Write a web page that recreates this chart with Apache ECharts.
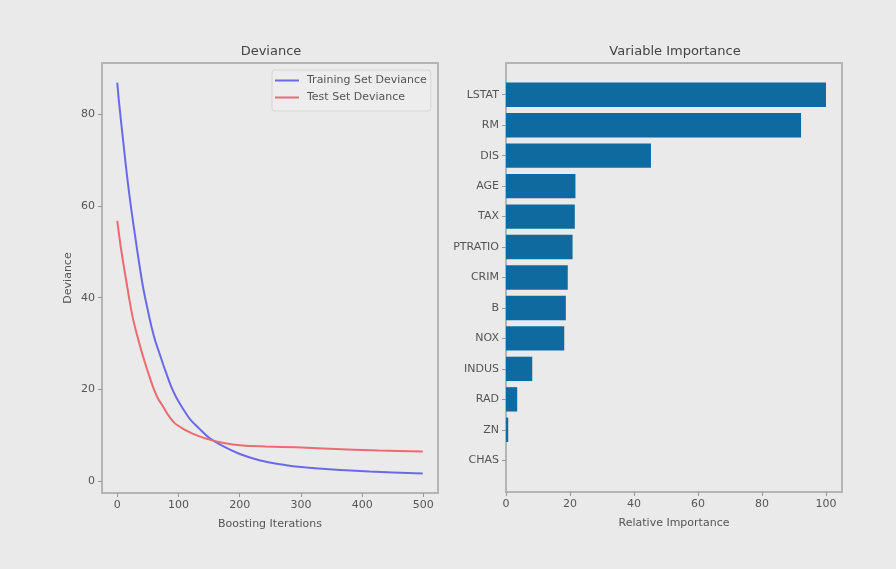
<!DOCTYPE html>
<html>
<head>
<meta charset="utf-8">
<script src="https://cdn.jsdelivr.net/npm/echarts@6/dist/echarts.min.js"></script>
<style>
  html, body { margin: 0; padding: 0; background: #eaeaea; }
  #chart { width: 896px; height: 569px; }
</style>
</head>
<body>
<div id="chart"></div>
<script>
// Gradient boosting run: deviance per boosting iteration
var trainIter = [0, 3, 10, 16, 23, 29, 36, 42, 49, 56, 62, 69, 75, 80, 88, 96, 107, 118, 134, 150, 172, 199, 232, 276, 300, 346, 412, 499];
var trainDeviance = [87.0, 82.5, 73.8, 66.5, 59.2, 53.6, 47.3, 42.4, 37.8, 33.6, 30.6, 27.8, 25.4, 23.5, 20.6, 18.3, 15.8, 13.6, 11.4, 9.4, 7.6, 5.9, 4.5, 3.4, 3.0, 2.5, 2.0, 1.6];
var testIter = [0, 6, 13, 19, 25, 32, 39, 45, 52, 59, 66, 74, 82, 93, 107, 123, 145, 172, 205, 243, 292, 346, 428, 499];
var testDeviance = [56.8, 50.8, 45.0, 40.2, 35.8, 32.0, 28.6, 25.9, 23.0, 20.3, 18.1, 16.4, 14.6, 12.7, 11.4, 10.3, 9.2, 8.3, 7.7, 7.5, 7.3, 7.0, 6.6, 6.4];
var iterTicks = [0, 100, 200, 300, 400, 500];
var devianceTicks = [0, 20, 40, 60, 80];

// Relative feature importance, most important first
var features = ['LSTAT', 'RM', 'DIS', 'AGE', 'TAX', 'PTRATIO', 'CRIM', 'B', 'NOX', 'INDUS', 'RAD', 'ZN', 'CHAS'];
var importance = [100, 92.2, 45.3, 21.7, 21.5, 20.8, 19.3, 18.7, 18.2, 8.2, 3.5, 0.7, 0];
var importanceTicks = [0, 20, 40, 60, 80, 100];

function pairs(xs, ys) {
  return xs.map(function (x, i) { return [x, ys[i]]; });
}

var FONT = 'DejaVu Sans';
var TICK_COLOR = '#555555';
var FRAME = '#b4b4b4';

var chart = echarts.init(document.getElementById('chart'), null, { renderer: 'canvas' });

var tickLabel = { fontFamily: FONT, fontSize: 11, color: TICK_COLOR, margin: 7 };
var tick = { show: true, inside: false, length: 4, lineStyle: { color: '#9a9a9a', width: 1 } };
var nameStyle = { fontFamily: FONT, fontSize: 11, color: TICK_COLOR };
var hiddenLine = { show: false, onZero: false };

chart.setOption({
  backgroundColor: '#eaeaea',
  animation: false,
  textStyle: { fontFamily: FONT },
  graphic: [
    { type: 'text', x: 271, y: 52, style: { text: 'Deviance', fontFamily: FONT, fontSize: 13, fill: '#444', textAlign: 'center', textVerticalAlign: 'middle' } },
    { type: 'text', x: 675, y: 52, style: { text: 'Variable Importance', fontFamily: FONT, fontSize: 13, fill: '#444', textAlign: 'center', textVerticalAlign: 'middle' } }
  ],
  legend: {
    data: ['Training Set Deviance', 'Test Set Deviance'],
    orient: 'vertical',
    left: 272, top: 70,
    icon: 'rect',
    itemWidth: 24, itemHeight: 2,
    itemGap: 6,
    padding: [5, 4, 8, 3],
    borderColor: '#d6d6d6', borderWidth: 1, borderRadius: 3,
    backgroundColor: '#ededed',
    textStyle: { fontFamily: FONT, fontSize: 11, color: TICK_COLOR, padding: [0, 0, 0, 3] }
  },
  grid: [
    { left: 102, top: 63, width: 336, height: 430, show: true, borderColor: FRAME, borderWidth: 2, backgroundColor: '#eaeaea' },
    { left: 506, top: 63, width: 336, height: 429, show: true, borderColor: FRAME, borderWidth: 2, backgroundColor: '#eaeaea' },
    { left: 506, top: 79.5, width: 336, height: 396 }
  ],
  xAxis: [
    {
      gridIndex: 0, type: 'value', min: -24.95, max: 523.95, position: 'bottom',
      axisLine: hiddenLine, splitLine: { show: false },
      axisTick: Object.assign({ customValues: iterTicks }, tick),
      axisLabel: Object.assign({ customValues: iterTicks }, tickLabel),
      name: 'Boosting Iterations', nameLocation: 'middle', nameGap: 26, nameTextStyle: nameStyle
    },
    {
      gridIndex: 1, type: 'value', min: 0, max: 105, position: 'bottom',
      axisLine: hiddenLine, splitLine: { show: false },
      axisTick: Object.assign({ customValues: importanceTicks }, tick),
      axisLabel: Object.assign({ customValues: importanceTicks }, tickLabel),
      name: 'Relative Importance', nameLocation: 'middle', nameGap: 26, nameTextStyle: nameStyle
    },
    {
      gridIndex: 2, type: 'value', min: 0, max: 105, show: false
    }
  ],
  yAxis: [
    {
      gridIndex: 0, type: 'value', min: -2.67, max: 91.27, position: 'left',
      axisLine: hiddenLine, splitLine: { show: false },
      axisTick: Object.assign({ customValues: devianceTicks }, tick),
      axisLabel: Object.assign({ customValues: devianceTicks }, tickLabel),
      name: 'Deviance', nameLocation: 'middle', nameGap: 28, nameTextStyle: nameStyle
    },
    {
      gridIndex: 1, type: 'value', min: 0, max: 1, show: false
    },
    {
      gridIndex: 2, type: 'category', data: features, inverse: true, position: 'left',
      axisLine: hiddenLine, splitLine: { show: false },
      axisTick: Object.assign({ alignWithLabel: true }, tick),
      axisLabel: tickLabel
    }
  ],
  series: [
    {
      name: 'Training Set Deviance', type: 'line', xAxisIndex: 0, yAxisIndex: 0,
      data: pairs(trainIter, trainDeviance),
      showSymbol: false, symbol: 'none', smooth: 0.3,
      lineStyle: { color: '#6a6ae8', width: 2 }, itemStyle: { color: '#6a6ae8' }
    },
    {
      name: 'Test Set Deviance', type: 'line', xAxisIndex: 0, yAxisIndex: 0,
      data: pairs(testIter, testDeviance),
      showSymbol: false, symbol: 'none', smooth: 0.3,
      lineStyle: { color: '#ec6a70', width: 2 }, itemStyle: { color: '#ec6a70' }
    },
    {
      name: 'Importance', type: 'bar', xAxisIndex: 2, yAxisIndex: 2,
      data: importance, barWidth: '80%',
      itemStyle: { color: '#0f6b9f' }
    }
  ]
});
</script>
</body>
</html>
